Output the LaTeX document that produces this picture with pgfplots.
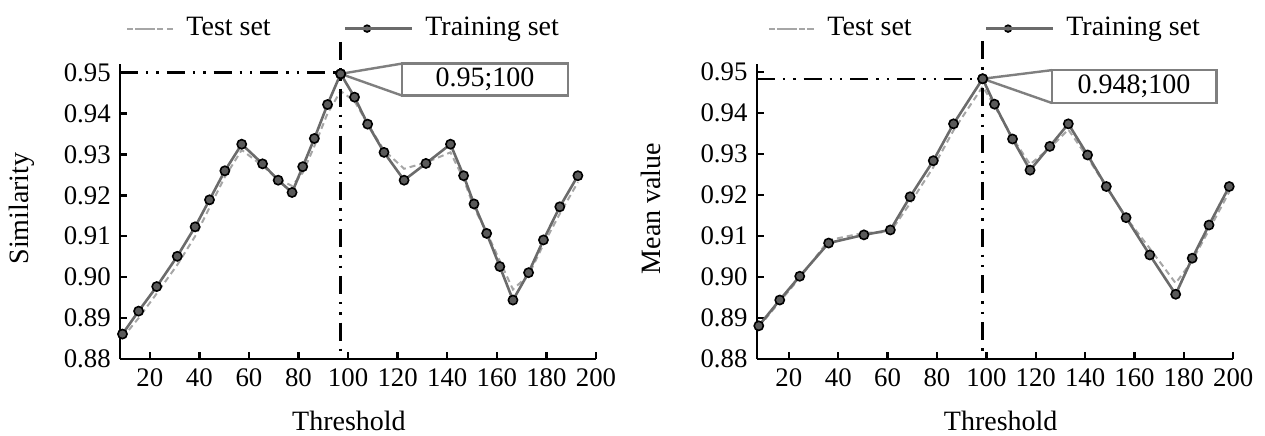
\documentclass[border=0pt]{standalone}
\usepackage{fontspec}
\setmainfont{Liberation Serif}
\usepackage{pgfplots}
\pgfplotsset{compat=1.18}
\usepackage{pgfplotstable}

\newcommand\fsz{\fontsize{13.4}{15}\selectfont}
\newcommand\lsz{\fontsize{14}{16}\selectfont}
\definecolor{trainc}{HTML}{6B6B6B}
\definecolor{markc}{HTML}{5A5A5A}
\definecolor{testc}{HTML}{A6A6A6}
\definecolor{callc}{HTML}{7F7F7F}

% left panel: similarity
\pgfplotstableread{
x y
9 0.8861
15.5 0.8917
22.8 0.8977
31.1 0.9051
38.3 0.9123
44.1 0.9189
50.3 0.9260
57.1 0.9325
65.5 0.9277
71.8 0.9237
77.4 0.9207
81.7 0.9270
86.4 0.9339
91.7 0.9422
97 0.9497
102.6 0.9440
107.9 0.9374
114.5 0.9305
122.6 0.9237
131.4 0.9278
141.3 0.9325
146.6 0.9248
150.8 0.9179
155.9 0.9107
161.2 0.9026
166.5 0.8944
172.8 0.9011
178.8 0.9091
185.4 0.9172
192.7 0.9248
}\simtrain
\pgfplotstableread{
x y
9 0.8852
15.5 0.8900
22.8 0.8960
31.1 0.9030
38.3 0.9100
44.1 0.9170
50.3 0.9245
57.1 0.9311
65.5 0.9272
71.8 0.9240
77.4 0.9223
81.7 0.9255
86.4 0.9320
91.7 0.9400
97 0.9455
102.6 0.9430
107.9 0.9375
114.5 0.9310
122.6 0.9265
131.4 0.9280
141.3 0.9305
146.6 0.9240
150.8 0.9170
155.9 0.9110
161.2 0.9040
166.5 0.8970
172.8 0.9005
178.8 0.9080
185.4 0.9155
192.7 0.9232
}\simtest

% right panel: mean value
\pgfplotstableread{
x y
7.8 0.8881
16.3 0.8944
24.4 0.9002
36.1 0.9083
50.4 0.9103
61.1 0.9115
69.1 0.9196
78.5 0.9284
86.7 0.9374
98.5 0.9484
103.3 0.9422
110.6 0.9337
117.7 0.9261
125.7 0.9319
133.2 0.9374
141 0.9298
148.6 0.9221
156.6 0.9145
166.2 0.9054
176.7 0.8958
183.4 0.9046
190.2 0.9127
198.4 0.9221
}\meantrain
\pgfplotstableread{
x y
7.8 0.8878
16.3 0.8940
24.4 0.8998
36.1 0.9090
50.4 0.9108
61.1 0.9110
69.1 0.9180
78.5 0.9268
86.7 0.9358
98.5 0.9465
103.3 0.9418
110.6 0.9340
117.7 0.9275
125.7 0.9315
133.2 0.9360
141 0.9292
148.6 0.9220
156.6 0.9145
166.2 0.9070
176.7 0.8985
183.4 0.9040
190.2 0.9115
198.4 0.9208
}\meantest

\tikzset{
  dashdd/.style={black, line width=1.2pt,
    dash pattern=on 9pt off 4pt on 1.2pt off 4pt on 1.2pt off 4pt},
  callout/.style={callc, line width=1.2pt},
}

\pgfplotsset{
  panel/.style={
    scale only axis,
    height=147.5pt,
    axis x line=bottom, axis y line=left,
    axis line style={-, line width=1.2pt, black},
    tick align=inside,
    major tick length=3.5pt,
    every tick/.style={black, line width=1.2pt},
    xmax=200, ymin=0.88,
    xtick={20,40,...,200},
    ytick={0.88,0.89,...,0.95},
    yticklabel style={/pgf/number format/.cd, fixed, fixed zerofill, precision=2},
    /pgf/number format/assume math mode=true,
    tick label style={font=\fsz},
    label style={font=\lsz},
    xlabel={Threshold},
    clip=false,
    legend columns=2,
    legend style={draw=none, fill=none, inner sep=0pt, font=\lsz,
      anchor=west,
      /tikz/every even column/.append style={column sep=30.5pt},
      nodes={inner xsep=6pt}},
  },
  trainline/.style={color=trainc, line width=1.3pt, mark=*,
    mark size=2.3pt, mark options={fill=markc, draw=black, line width=0.8pt}},
  testline/.style={color=testc, line width=1pt, dash pattern=on 3pt off 2pt},
  % legend sample: drawn length, marker position, total width
  trainleg/.style n args={3}{legend image code/.code={
      \draw[color=trainc, line width=1.3pt] (0pt,0pt) -- (#1,0pt);
      \draw[fill=markc, draw=black, line width=0.8pt] (#2,0pt) circle (1.7pt);
      \path (0pt,0pt) -- (#3,0pt);}},
  testleg/.style 2 args={legend image code/.code={
      \draw[color=testc, line width=1pt, dash pattern=on 2.2pt off 1.6pt] (0pt,0pt) -- (#1,0pt);
      \path (0pt,0pt) -- (#2,0pt);}},
}

\begin{document}
\fsz
\begin{tikzpicture}
\useasboundingbox (0,0) rectangle (632.5pt,217.5pt);

\begin{axis}[panel,
  at={(60pt,38pt)}, anchor=south west,
  width=238pt,
  xmin=8, ymax=0.9521,
  ylabel={Similarity},
  ylabel style={at={(axis description cs:-0.207,0.51)}, anchor=center},
  xlabel style={at={(axis description cs:0.481,-0.21)}, anchor=center},
  legend style={at={(axis description cs:0.0126,1.12)}},
]
\addplot[testline, testleg={16pt}{23pt}] table {\simtest};
\addlegendentry{Test set}
\addplot[trainline, trainleg={21.5pt}{11pt}{33.5pt}] table {\simtrain};
\addlegendentry{Training set}
\draw[dashdd] (axis cs:8,0.95) -- (axis cs:97,0.95);
\draw[dashdd] (axis cs:97,0.9575) -- (axis cs:97,0.88);
\draw[callout] (axis cs:121.7,0.9522) -- (axis cs:97,0.9497) -- (axis cs:121.7,0.9444);
\draw[callout, fill=white] (axis cs:121.7,0.9444) rectangle (axis cs:188.7,0.9522);
\node[font=\lsz] at (axis cs:155.2,0.9483) {0.95;100};
\addplot[trainline, forget plot] coordinates {(97,0.9497)};
\end{axis}

\begin{axis}[panel,
  at={(378.4pt,38pt)}, anchor=south west,
  width=238.2pt,
  xmin=7, ymax=0.952,
  ylabel={Mean value},
  ylabel style={at={(axis description cs:-0.222,0.51)}, anchor=center},
  xlabel style={at={(axis description cs:0.512,-0.21)}, anchor=center},
  legend style={at={(axis description cs:0.0235,1.12)}},
]
\addplot[testline, testleg={22.5pt}{22.5pt}] table {\meantest};
\addlegendentry{Test set}
\addplot[trainline, trainleg={21.5pt}{11pt}{33.5pt}] table {\meantrain};
\addlegendentry{Training set}
\draw[dashdd] (axis cs:7,0.9484) -- (axis cs:98.5,0.9484);
\draw[dashdd] (axis cs:98.5,0.9575) -- (axis cs:98.5,0.88);
\draw[callout] (axis cs:126.5,0.9505) -- (axis cs:98.5,0.9484) -- (axis cs:126.5,0.9425);
\draw[callout, fill=white] (axis cs:126.5,0.9425) rectangle (axis cs:193.3,0.9505);
\node[font=\lsz] at (axis cs:159.8,0.9465) {0.948;100};
\addplot[trainline, forget plot] coordinates {(98.5,0.9484)};
\end{axis}
\end{tikzpicture}
\end{document}
